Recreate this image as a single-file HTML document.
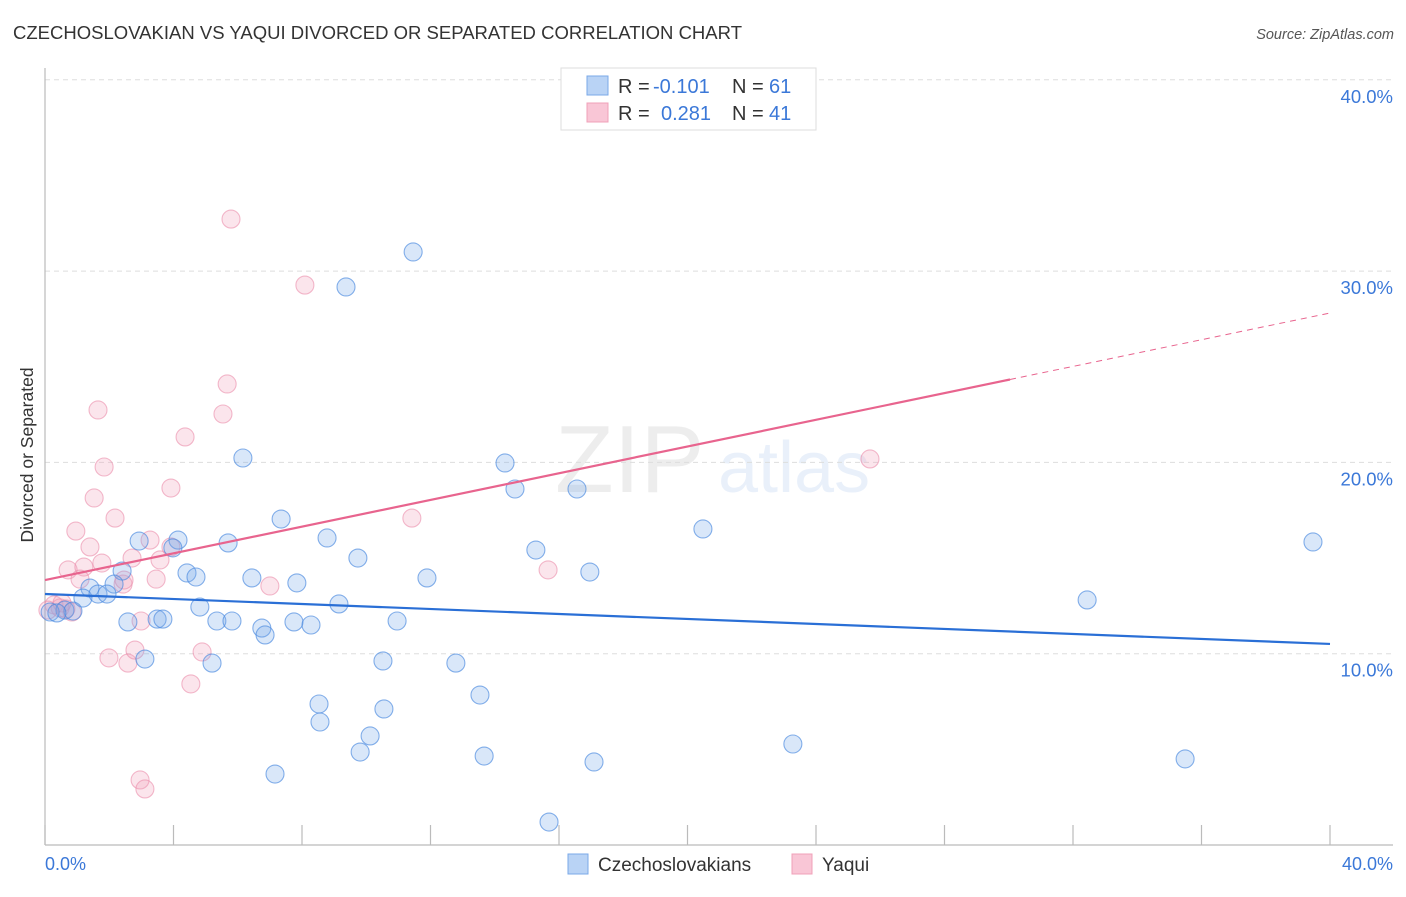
<!DOCTYPE html>
<html><head><meta charset="utf-8"><style>
body{margin:0;background:#fff;font-family:"Liberation Sans",sans-serif;}
svg text{font-family:"Liberation Sans",sans-serif;}
</style></head><body>
<svg id="chart" width="1406" height="892" viewBox="0 0 1406 892" xmlns="http://www.w3.org/2000/svg">
<text x="13" y="39" font-size="18.5" fill="#333" textLength="729" lengthAdjust="spacingAndGlyphs">CZECHOSLOVAKIAN VS YAQUI DIVORCED OR SEPARATED CORRELATION CHART</text>
<text x="1394" y="39" font-size="14.5" fill="#555" font-style="italic" text-anchor="end">Source: ZipAtlas.com</text>
<g opacity="0.14">
<text x="555" y="492" font-size="96" font-family="Liberation Serif" fill="#888">ZIP</text>
<text x="718" y="492" font-size="72" fill="#6b9be0">atlas</text>
</g>
<g id="grid"></g>
<line x1="45" y1="68" x2="45" y2="845" stroke="#bbb" stroke-width="1.2"/>
<line x1="45" y1="845" x2="1393" y2="845" stroke="#bbb" stroke-width="1.2"/>
<g id="xticks"></g>
<text transform="translate(33,455) rotate(-90)" font-size="17.5" fill="#333" text-anchor="middle">Divorced or Separated</text>
<text x="45" y="870" font-size="18" fill="#3b78d8">0.0%</text>
<text x="1393" y="870" font-size="18" fill="#3b78d8" text-anchor="end">40.0%</text>
<g id="pts"></g>
<g id="trend"></g>
<g>
<rect x="561" y="68" width="255" height="62" fill="#fff" stroke="#ddd"/>
<rect x="587" y="76" width="21" height="19" fill="#b9d3f5" stroke="#7aa8e8"/>
<rect x="587" y="103" width="21" height="19" fill="#f9c6d6" stroke="#f0a0b8"/>
<text x="618" y="93" font-size="20" fill="#333">R =</text>
<text x="653" y="93" font-size="20" fill="#3b78d8">-0.101</text>
<text x="732" y="93" font-size="20" fill="#333">N =</text>
<text x="769" y="93" font-size="20" fill="#3b78d8">61</text>
<text x="618" y="120" font-size="20" fill="#333">R =</text>
<text x="661" y="120" font-size="20" fill="#3b78d8">0.281</text>
<text x="732" y="120" font-size="20" fill="#333">N =</text>
<text x="769" y="120" font-size="20" fill="#3b78d8">41</text>
</g>
<g>
<rect x="568" y="854" width="20" height="20" fill="#b9d3f5" stroke="#7aa8e8"/>
<text x="598" y="871" font-size="19" fill="#333">Czechoslovakians</text>
<rect x="792" y="854" width="20" height="20" fill="#f9c6d6" stroke="#f0a0b8"/>
<text x="822" y="871" font-size="19" fill="#333">Yaqui</text>
</g>
</svg>
<script>
const yTicks=[10,20,30,40];
const yTickLabels=["10.0%","20.0%","30.0%","40.0%"];
const xTickVals=[0,4,8,12,16,20,24,28,32,36,40];
const blueX=[11.46,9.37,6.16,14.32,14.63,16.56,20.48,39.47,7.35,8.78,4.14,2.93,5.70,3.98,15.28,9.74,2.40,16.96,4.42,4.70,6.44,11.89,7.84,2.15,1.40,1.18,1.65,1.93,32.44,9.15,4.82,0.62,0.16,0.87,0.37,2.58,3.49,3.67,5.35,5.82,10.96,6.75,6.85,7.75,8.28,3.11,5.20,10.52,12.79,13.54,8.53,10.55,8.56,10.12,9.81,13.67,23.28,17.09,35.49,7.16,15.69];
const blueY=[31.0,29.17,20.23,19.97,18.61,18.61,16.52,15.84,17.04,16.05,15.94,15.89,15.79,15.53,15.42,15.0,14.32,14.27,14.22,14.01,13.96,13.96,13.70,13.64,13.43,12.91,13.12,13.12,12.81,12.6,12.44,12.28,12.18,12.23,12.13,11.66,11.81,11.81,11.71,11.71,11.71,11.34,10.98,11.66,11.5,9.72,9.51,9.62,9.51,7.84,7.37,7.11,6.43,5.70,4.86,4.65,5.28,4.34,4.50,3.71,1.20];
const pinkX=[5.79,8.09,5.67,1.65,5.54,4.36,1.84,3.92,1.53,2.18,11.42,0.96,3.27,1.40,2.71,3.58,1.77,0.72,1.21,1.09,3.46,2.43,7.0,15.66,25.68,2.99,1.99,2.58,2.80,4.89,4.54,2.96,3.11,0.84,0.28,0.47,0.09,0.65,3.92,2.46,0.53];
const pinkY=[32.72,29.27,24.1,22.74,22.53,21.33,19.76,18.66,18.14,17.09,17.09,16.41,15.94,15.58,15.0,14.9,14.74,14.38,14.53,13.9,13.9,13.64,13.54,14.38,20.18,11.71,9.78,9.51,10.19,10.09,8.42,3.40,2.93,12.18,12.55,12.39,12.28,12.34,15.58,13.85,12.65];
const blueTrend=[13.12,10.51];
const pinkTrend=[13.85,27.81];
const pinkSolidEnd=30.04;

const NS="http://www.w3.org/2000/svg";
const X0=45,X1=1330,YB=845,PY=19.13;
function sx(v){return X0+(X1-X0)*v/40;}
function sy(v){return YB-v*PY;}
function mk(t,a,p){const e=document.createElementNS(NS,t);for(const k in a)e.setAttribute(k,a[k]);p.appendChild(e);return e;}
const grid=document.getElementById('grid');
yTicks.forEach((v,i)=>{
  const l=mk('line',{x1:45,x2:1393,y1:sy(v),y2:sy(v),stroke:'#ddd','stroke-dasharray':'5,4'},grid);
  
  
  const t=mk('text',{x:1393,y:sy(v)+23,'font-size':18.5,fill:'#3b78d8','text-anchor':'end'},grid);
  t.textContent=yTickLabels[i];
  
  
});
const xt=document.getElementById('xticks');
xTickVals.forEach(v=>{
  const l=mk('line',{x1:sx(v),x2:sx(v),y1:825,y2:845,stroke:'#bbb','stroke-width':1.2},xt);
  
  
});
const pts=document.getElementById('pts');
pinkX.forEach((x,i)=>{
  const c=mk('circle',{cx:sx(x),cy:sy(pinkY[i]),r:9,fill:'rgba(242,160,188,0.28)',stroke:'rgba(235,140,170,0.6)','stroke-width':1.1},pts);
  
  
});
blueX.forEach((x,i)=>{
  const c=mk('circle',{cx:sx(x),cy:sy(blueY[i]),r:9,fill:'rgba(120,168,232,0.28)',stroke:'rgba(70,135,222,0.65)','stroke-width':1.1},pts);
  
  
});
const tr=document.getElementById('trend');
const bl=mk('line',{x1:sx(0),y1:sy(blueTrend[0]),x2:sx(40),y2:sy(blueTrend[1]),stroke:'#2a6fd6','stroke-width':2.2},tr);


const pe=pinkTrend[0]+(pinkTrend[1]-pinkTrend[0])*pinkSolidEnd/40;
const pl=mk('line',{x1:sx(0),y1:sy(pinkTrend[0]),x2:sx(pinkSolidEnd),y2:sy(pe),stroke:'#e8648e','stroke-width':2.2},tr);


const pd=mk('line',{x1:sx(pinkSolidEnd),y1:sy(pe),x2:sx(40),y2:sy(pinkTrend[1]),stroke:'#e8648e','stroke-width':1,'stroke-dasharray':'6,5'},tr);


</script>
</body></html>
